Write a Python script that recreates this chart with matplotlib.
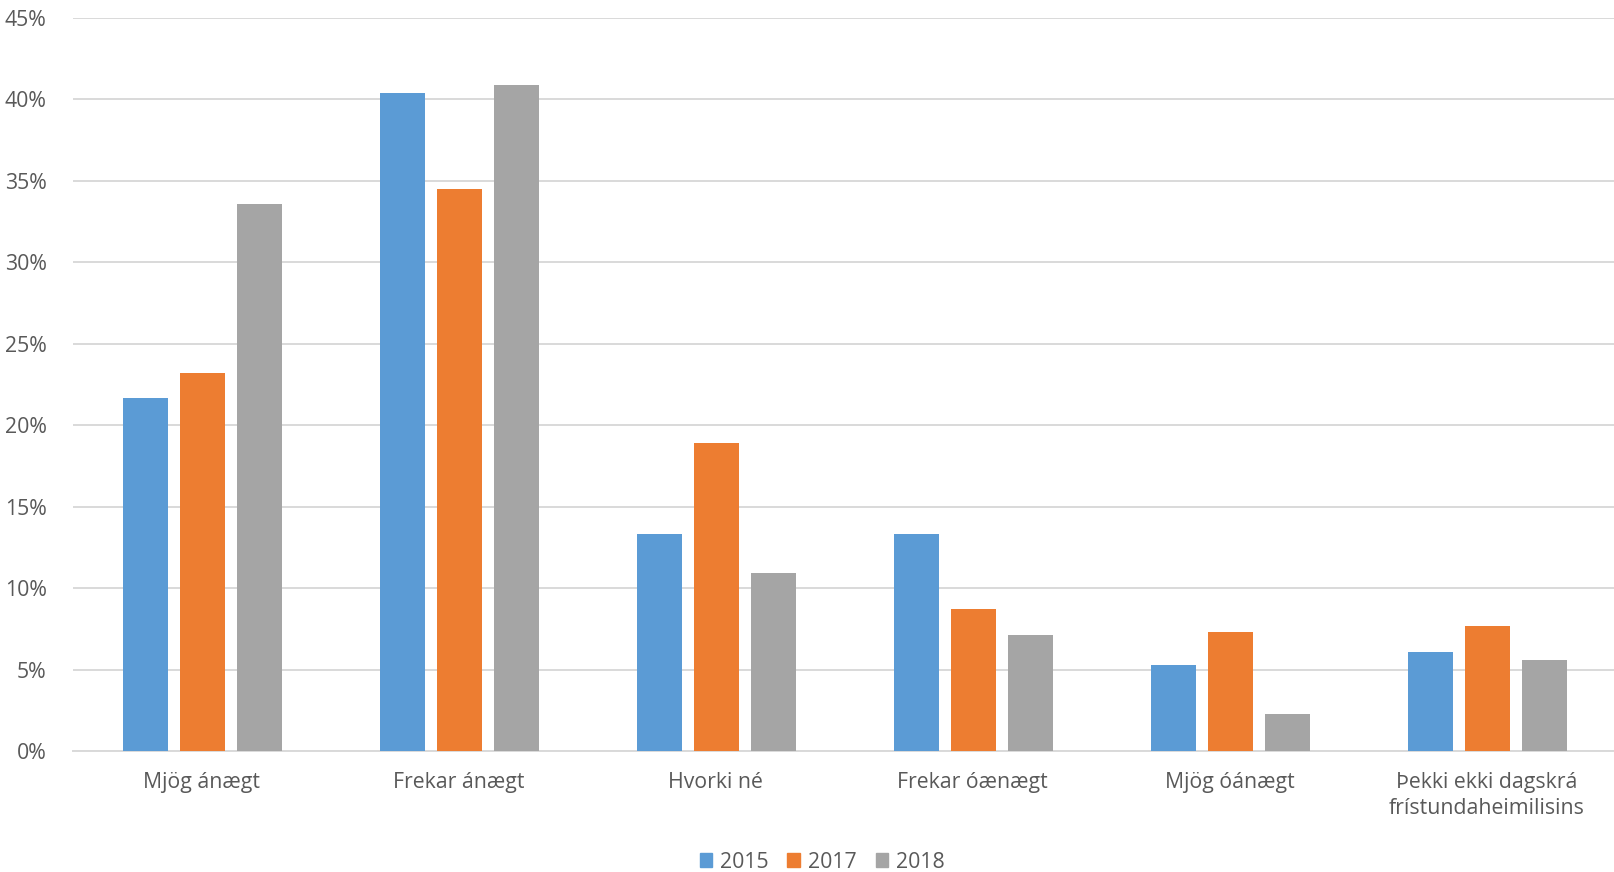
import matplotlib
matplotlib.use("Agg")
import matplotlib.pyplot as plt
import numpy as np
from matplotlib.ticker import PercentFormatter
from matplotlib.patches import Patch

categories = ["Mjög ánægt", "Frekar ánægt", "Hvorki né", "Frekar óænægt",
              "Mjög óánægt", "Þekki ekki dagskrá\nfrístundaheimilisins"]
years = ["2015", "2017", "2018"]
v2015 = [0.217, 0.404, 0.133, 0.133, 0.053, 0.061]
v2017 = [0.232, 0.345, 0.189, 0.087, 0.073, 0.077]
v2018 = [0.336, 0.409, 0.109, 0.071, 0.023, 0.056]
yticks = [0, 0.05, 0.10, 0.15, 0.20, 0.25, 0.30, 0.35, 0.40, 0.45]

colors = ["#5B9BD5", "#ED7D31", "#A5A5A5"]
text_color = "#595959"
plt.rcParams['font.family'] = ['Open Sans', 'DejaVu Sans']

fig = plt.figure(figsize=(16.15, 8.72), dpi=100)
ax = fig.add_axes([73/1615, 1-751/872, 1-73/1615, (751-18)/872])

x = np.arange(len(categories))
offset = 0.222
width = 0.175
for i, (vals, c) in enumerate(zip([v2015, v2017, v2018], colors)):
    ax.bar(x + (i-1)*offset + 0.003, vals, width=width, color=c, zorder=3, label=years[i])

ax.set_xlim(-0.5, len(categories)-0.5)
ax.set_ylim(0, 0.45)
ax.set_yticks(yticks)
ax.yaxis.set_major_formatter(PercentFormatter(1.0, decimals=0))
ax.grid(axis='y', color='#D9D9D9', linewidth=1.4, zorder=0)
ax.set_xticks(x)
ax.set_xticklabels(categories, fontsize=15.3, color=text_color, linespacing=1.3)
ax.tick_params(axis='y', labelsize=15.3, labelcolor=text_color, length=0, pad=19)
ax.tick_params(axis='x', length=0, pad=15)
for s in ['top', 'right', 'left']:
    ax.spines[s].set_visible(False)
ax.spines['bottom'].set_color('#D9D9D9')
ax.spines['bottom'].set_linewidth(1.4)

handles = [Patch(color=c, label=y) for c, y in zip(colors, years)]
fig.legend(handles=handles, loc='center', bbox_to_anchor=(822/1615, 1-862/872),
           ncol=3, frameon=False, fontsize=15.3, labelcolor=text_color,
           handlelength=0.6, handleheight=0.6, handletextpad=0.35, columnspacing=0.9)

fig.savefig("out.png", dpi=100)
